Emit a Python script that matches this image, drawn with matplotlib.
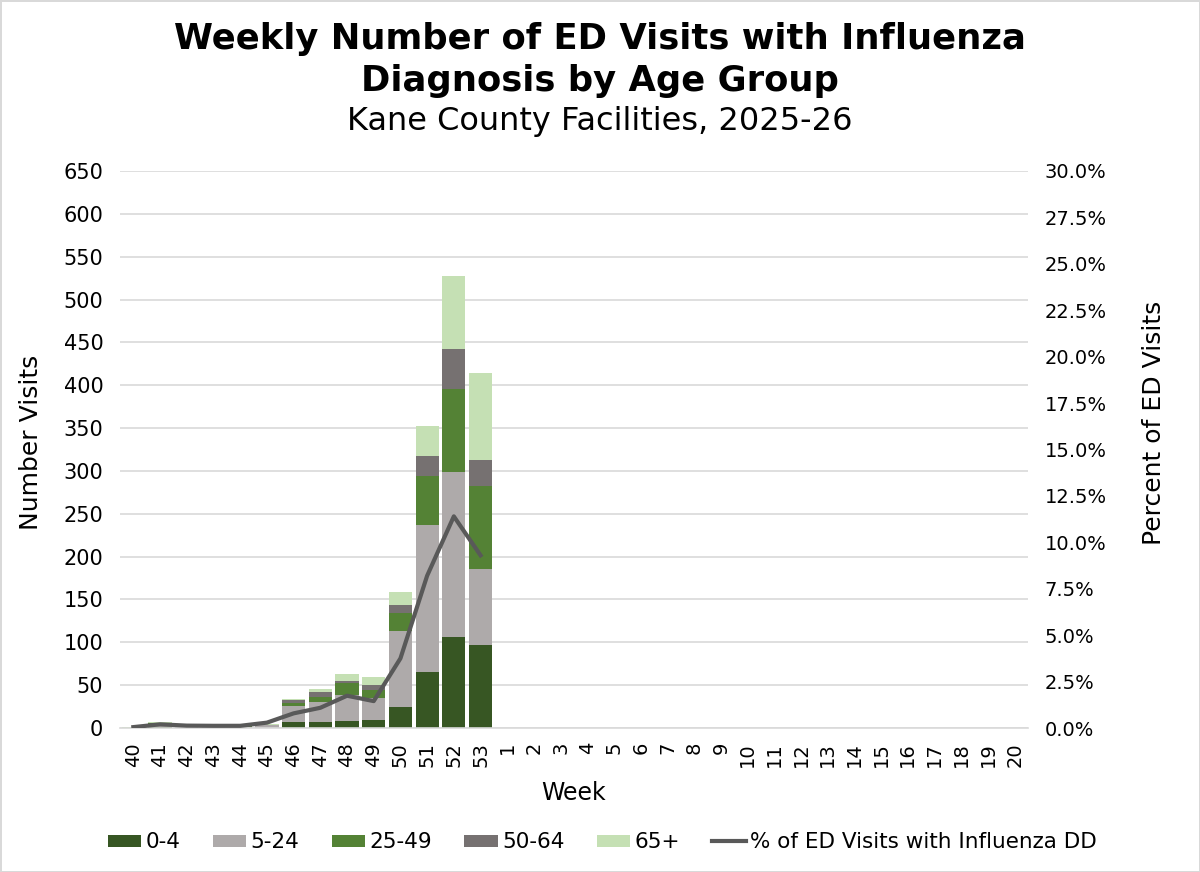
import matplotlib
matplotlib.use("Agg")
import matplotlib.pyplot as plt
import numpy as np
from matplotlib.ticker import FuncFormatter, MultipleLocator

weeks = [str(w) for w in list(range(40, 54)) + list(range(1, 21))]

age_0_4   = [0, 1, 0, 0, 0, 0, 7, 7, 8, 9, 25, 65, 106, 97]
age_5_24  = [0, 1, 1, 1, 1, 3, 19, 23, 31, 26, 88, 172, 193, 89]
age_25_49 = [0, 4, 2, 1, 1, 1, 3, 6, 13, 9, 21, 57, 97, 96]
age_50_64 = [0, 0, 0, 0, 0, 0, 4, 6, 3, 6, 9, 23, 46, 31]
age_65p   = [1, 1, 1, 0, 0, 1, 1, 4, 8, 10, 16, 36, 86, 101]
pct_flu   = [0.05, 0.2, 0.13, 0.12, 0.12, 0.29, 0.79, 1.09, 1.74, 1.45, 3.75, 8.2, 11.4, 9.3]

series = [
    ("0-4", age_0_4, "#375623"),
    ("5-24", age_5_24, "#AEAAAA"),
    ("25-49", age_25_49, "#548235"),
    ("50-64", age_50_64, "#767171"),
    ("65+", age_65p, "#C5E0B4"),
]

plt.rcParams['font.family'] = ['DejaVu Sans']

fig = plt.figure(figsize=(12, 8.72), dpi=100)
fig.patch.set_edgecolor("#D9D9D9")
fig.patch.set_linewidth(2)
ax = fig.add_axes([0.1, 0.1651, 0.7567, 0.6388])

x = np.arange(len(weeks))
n = len(age_0_4)
bottom = np.zeros(n)
handles = []
for name, vals, col in series:
    v = np.array(vals, dtype=float)
    b = ax.bar(x[:n], v, bottom=bottom, width=0.87, color=col, label=name, zorder=2)
    handles.append(b)
    bottom += v

ax.set_xlim(-0.5, len(weeks) - 0.5)
ax.set_ylim(0, 650)
ax.yaxis.set_major_locator(MultipleLocator(50))
ax.set_xticks(x)
ax.set_xticklabels(weeks, rotation=90)
ax.grid(axis='y', color="#D9D9D9", linewidth=1.2, zorder=0)
ax.set_axisbelow(True)
for s in ['top', 'left', 'right']:
    ax.spines[s].set_visible(False)
ax.spines['bottom'].set_color("#D9D9D9")
ax.spines['bottom'].set_linewidth(1.2)
ax.tick_params(axis='both', length=0, labelsize=14, colors="#000000")
ax.tick_params(axis='y', pad=12, labelsize=15)
ax.tick_params(axis='x', pad=10)
ax.set_ylabel("Number Visits", fontsize=18)
ax.yaxis.set_label_coords(-0.085, 0.513)
ax.set_xlabel("Week", fontsize=17, labelpad=10)

ax2 = ax.twinx()
ax2.set_ylim(0, 30)
ax2.yaxis.set_major_locator(MultipleLocator(2.5))
ax2.yaxis.set_major_formatter(FuncFormatter(lambda v, p: f"{v:.1f}%"))
line, = ax2.plot(x[:n], pct_flu, color="#595959", linewidth=3, label="% of ED Visits with Influenza DD", zorder=3)
for s in ['top', 'left', 'right', 'bottom']:
    ax2.spines[s].set_visible(False)
ax2.tick_params(axis='y', length=0, labelsize=14, pad=12)
ax2.set_ylabel("Percent of ED Visits", fontsize=18)
ax2.yaxis.set_label_coords(1.126, 0.548)

fig.text(0.5, 0.931, "Weekly Number of ED Visits with Influenza\nDiagnosis by Age Group",
         ha='center', va='center', fontsize=25.5, fontweight='bold', linespacing=1.30)
fig.text(0.5, 0.8605, "Kane County Facilities, 2025-26", ha='center', va='center', fontsize=23)

fig.legend(handles + [line], [s[0] for s in series] + ["% of ED Visits with Influenza DD"],
           loc='center', bbox_to_anchor=(0.502, 0.034), ncol=6, frameon=False, fontsize=15.5,
           handlelength=1.55, handleheight=0.5, handletextpad=0.2, columnspacing=1.5)

fig.savefig("out.png", dpi=100)
